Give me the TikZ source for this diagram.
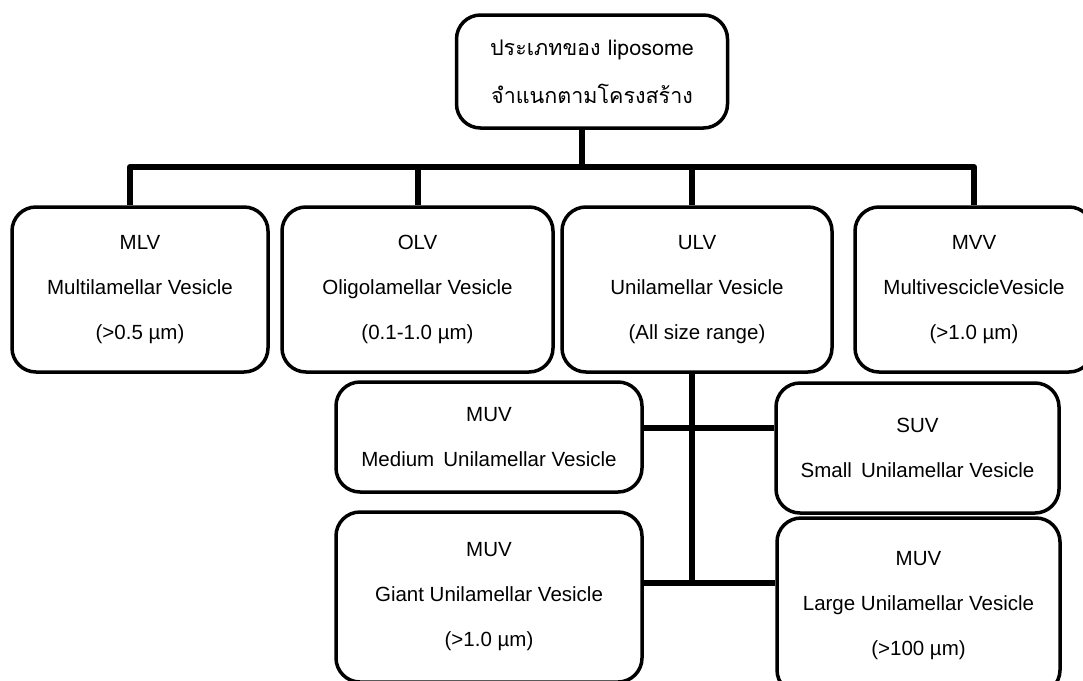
\documentclass[tikz,border=0pt]{standalone}
\usepackage{fontspec}
\setmainfont{Liberation Sans}
\newfontfamily\thaifont[Script=Thai]{Loma}
\begin{document}
\begin{tikzpicture}[x=1pt, y=-1pt, line join=round,
		box/.style={draw, line width=3.5pt, rounded corners=24pt, align=center, inner sep=0pt, font=\fontsize{20.5}{45}\selectfont},
		link/.style={line width=6pt, line cap=butt}]
		\useasboundingbox (0,0) rectangle (1083,680);
		\node[box, minimum width=271pt, minimum height=113pt, font=\fontsize{21.5}{48}\selectfont\thaifont] (top) at (592,71.5) {ประเภทของ liposome\\จำแนกตามโครงสร้าง};
		\node[box, minimum width=256pt, minimum height=165pt] (mlv) at (140,289.5) {MLV\\Multilamellar Vesicle\\(>0.5 µm)};
		\node[box, minimum width=271pt, minimum height=165pt] (olv) at (417.5,289.5) {OLV\\Oligolamellar Vesicle\\(0.1-1.0 µm)};
		\node[box, minimum width=270pt, minimum height=165pt] (ulv) at (697,289.5) {ULV\\Unilamellar Vesicle\\(All size range)};
		\node[box, minimum width=238pt, minimum height=165pt] (mvv) at (974,289.5) {MVV\\MultivescicleVesicle\\(>1.0 µm)};
		\node[box, minimum width=306pt, minimum height=110pt] (muv) at (489,437) {MUV\\Medium\ \,Unilamellar Vesicle};
		\node[box, minimum width=283pt, minimum height=130pt] (suv) at (917.5,448) {SUV\\Small\ \,Unilamellar Vesicle};
		\node[box, minimum width=306pt, minimum height=170pt] (guv) at (489,597) {MUV\\Giant Unilamellar Vesicle\\(>1.0 µm)};
		\node[box, minimum width=283pt, minimum height=176pt] (luv) at (918.5,606) {MUV\\Large Unilamellar Vesicle\\(>100 µm)};
		\path
		(582,167) coordinate (hub)
		(692,428) coordinate (umid)
		(692,583) coordinate (ujoin);
		\draw[link] ([xshift=-10pt]top.south) -- (hub);
		\draw[link] ([xshift=-10pt]mlv.north) |- (hub);
		\foreach \n in {olv, mvv}
		\draw[link] (\n.north) |- (hub);
		\draw[link] ([xshift=-5pt]ulv.north) |- (hub);
		\draw[link] ([xshift=-5pt]ulv.south) -- (ujoin);
		\draw[link] (muv.east |- umid) -- (suv.west |- umid);
		\draw[link] (guv.east |- ujoin) -- (luv.west |- ujoin);
		
	\end{tikzpicture}
\end{document}
